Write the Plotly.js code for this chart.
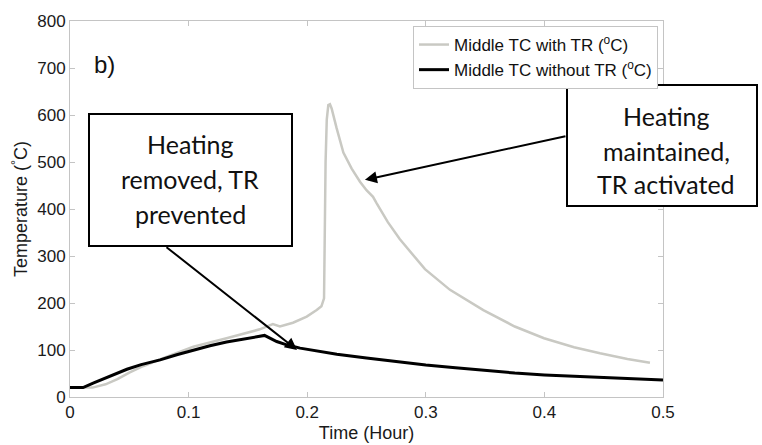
<!DOCTYPE html>
<html>
<head>
<meta charset="utf-8">
<script src="https://cdn.plot.ly/plotly-3.0.1.min.js"></script>
<style>html,body{margin:0;padding:0;background:#fff;}#chart{width:762px;height:445px;}</style>
</head>
<body>
<div id="chart"></div>
<script>
// Series: Middle TC with thermal runaway (TR)
const timeWithTR = [0, 0.019, 0.03, 0.04, 0.05, 0.062, 0.084, 0.104, 0.132, 0.16, 0.171, 0.177, 0.188, 0.1996, 0.208, 0.212, 0.2142, 0.2148, 0.2155, 0.2165, 0.2178, 0.2192, 0.2206, 0.2248, 0.2305, 0.2375, 0.2445, 0.25, 0.2555, 0.2586, 0.268, 0.278, 0.2993, 0.3204, 0.3485, 0.375, 0.3997, 0.425, 0.4469, 0.47, 0.489];
const tempWithTR = [20, 20, 27, 38, 52, 66, 88, 107, 125, 144, 155, 150, 158, 171, 185, 193, 210, 350, 500, 590, 621, 623, 614, 572, 520, 486, 458, 440, 426, 412, 372, 336, 272, 228, 185, 150, 125, 106, 93, 81, 73];
// Series: Middle TC without TR
const timeWithoutTR = [0, 0.011, 0.02, 0.03, 0.04, 0.048, 0.06, 0.076, 0.09, 0.104, 0.118, 0.132, 0.148, 0.164, 0.1743, 0.1827, 0.194, 0.209, 0.225, 0.25, 0.275, 0.3, 0.325, 0.35, 0.375, 0.4, 0.425, 0.45, 0.475, 0.5];
const tempWithoutTR = [20, 20, 30, 40, 50, 59, 69, 79, 90, 100, 109, 117, 124, 131, 118, 111, 104, 98, 91, 83, 75, 68, 62, 56, 51, 47, 44, 41, 38, 36];

const seriesNames = ['Middle TC with TR (<sup>o</sup>C)', 'Middle TC without TR (<sup>o</sup>C)'];
const xTickVals = [0, 0.1, 0.2, 0.3, 0.4, 0.5];
const xTickText = ['0', '0.1', '0.2', '0.3', '0.4', '0.5'];
const yTickVals = [0, 100, 200, 300, 400, 500, 600, 700, 800];
const yTickText = ['0', '100', '200', '300', '400', '500', '600', '700', '800'];
const panelLabel = 'b)';
const box1Lines = ['Heating', 'removed, TR', 'prevented'];
const box2Lines = ['Heating', 'maintained,', 'TR activated'];
const xTitle = 'Time (Hour)';
const yTitle = 'Temperature (<sup>°</sup>C)';

const sans = 'Liberation Sans, Arial, Helvetica, sans-serif';
const boxFont = 'Lato, Carlito, Calibri, sans-serif';
const axisGray = '#c4c4c4';

// plot area in pixels: left 70, right 663, top 21, bottom 397
const PL = 70, PR = 663, PT = 21, PB = 397;
const px = v => (v - PL) / (PR - PL);
const py = v => (PB - v) / (PB - PT);

const traces = [
  {x: timeWithTR, y: tempWithTR, name: seriesNames[0], type: 'scatter', mode: 'lines',
   line: {color: '#c9c9c3', width: 2.5}},
  {x: timeWithoutTR, y: tempWithoutTR, name: seriesNames[1], type: 'scatter', mode: 'lines',
   line: {color: '#000000', width: 3}}
];

const annotations = [];
annotations.push({xref: 'paper', yref: 'paper', x: px(104), y: py(64), xanchor: 'center', yanchor: 'middle',
  text: panelLabel, showarrow: false, font: {family: sans, size: 24, color: '#111'}});
const box1Y = [144, 179, 214];
box1Lines.forEach((t, i) => annotations.push({xref: 'paper', yref: 'paper', x: px(190), y: py(box1Y[i]),
  xanchor: 'center', yanchor: 'middle', text: t, showarrow: false,
  font: {family: boxFont, size: 25, color: '#111'}}));
const box2Y = [116, 151, 184];
box2Lines.forEach((t, i) => annotations.push({xref: 'paper', yref: 'paper', x: px(666), y: py(box2Y[i]),
  xanchor: 'center', yanchor: 'middle', text: t, showarrow: false,
  font: {family: boxFont, size: 25, color: '#111'}}));
// arrows
annotations.push({xref: 'x', yref: 'y', x: 0.1914, y: 100, ax: -132, ay: -104, text: '', showarrow: true,
  arrowhead: 2, arrowsize: 1.2, arrowwidth: 2, arrowcolor: '#000', standoff: 0});
annotations.push({xref: 'x', yref: 'y', x: 0.2487, y: 462, ax: 202, ay: -44, text: '', showarrow: true,
  arrowhead: 2, arrowsize: 1.2, arrowwidth: 2, arrowcolor: '#000', standoff: 0});

const shapes = [
  {type: 'rect', xref: 'paper', yref: 'paper', x0: px(89), x1: px(292), y0: py(246), y1: py(114),
   line: {color: '#000', width: 2}, fillcolor: '#fff', layer: 'above'},
  {type: 'rect', xref: 'paper', yref: 'paper', x0: px(567), x1: px(757), y0: py(206), y1: py(85),
   line: {color: '#000', width: 2}, fillcolor: '#fff', layer: 'above'}
];

const layout = {
  width: 762, height: 445,
  margin: {l: PL, r: 762 - PR, t: PT, b: 445 - PB, pad: 0},
  paper_bgcolor: '#fff', plot_bgcolor: '#fff',
  font: {family: sans, color: '#1a1a1a'},
  showlegend: true,
  legend: {x: px(658), xanchor: 'right', y: py(26), yanchor: 'top', bgcolor: '#fff',
    bordercolor: axisGray, borderwidth: 1, font: {family: sans, size: 17, color: '#111'},
    itemwidth: 30, tracegroupgap: 0},
  xaxis: {range: [0, 0.5], tickmode: 'array', tickvals: xTickVals, ticktext: xTickText,
    showgrid: false, zeroline: false, showline: true, linecolor: axisGray, linewidth: 1,
    mirror: 'ticks', ticks: 'inside', ticklen: 5, tickcolor: axisGray, tickwidth: 1,
    tickfont: {family: sans, size: 17, color: '#1a1a1a'},
    title: {text: xTitle, font: {family: sans, size: 18, color: '#1a1a1a'}, standoff: 4}},
  yaxis: {range: [0, 800], tickmode: 'array', tickvals: yTickVals, ticktext: yTickText,
    showgrid: false, zeroline: false, showline: true, linecolor: axisGray, linewidth: 1,
    mirror: 'ticks', ticks: 'inside', ticklen: 5, tickcolor: axisGray, tickwidth: 1,
    tickfont: {family: sans, size: 17, color: '#1a1a1a'},
    title: {text: yTitle, font: {family: sans, size: 18, color: '#1a1a1a'}, standoff: 4}},
  annotations: annotations,
  shapes: shapes
};

Plotly.newPlot('chart', traces, layout, {displayModeBar: false, staticPlot: true});
</script>
</body>
</html>
